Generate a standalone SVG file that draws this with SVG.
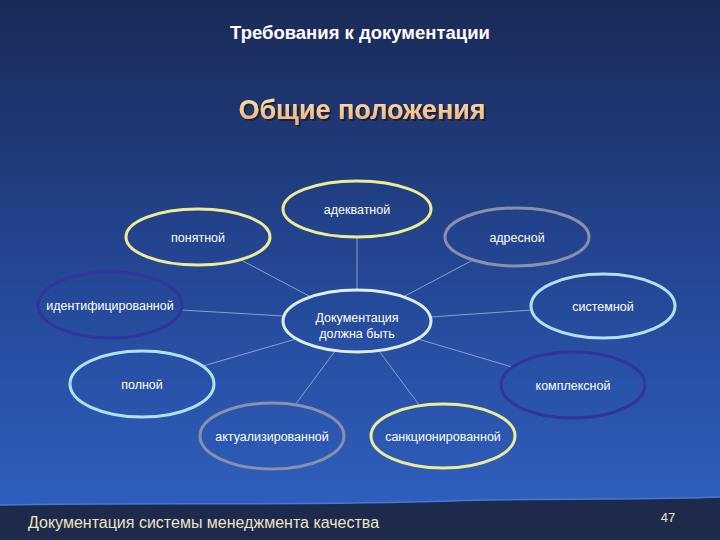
<svg xmlns="http://www.w3.org/2000/svg" width="720" height="540" viewBox="0 0 720 540">
<defs>
<linearGradient id="bg" x1="0" y1="0" x2="0" y2="1">
<stop offset="0" stop-color="#1a2a56"/>
<stop offset="0.45" stop-color="#23448f"/>
<stop offset="1" stop-color="#3062c4"/>
</linearGradient>
<linearGradient id="ttl" x1="0" y1="0" x2="0" y2="1">
<stop offset="0" stop-color="#fde2b8"/>
<stop offset="1" stop-color="#f0b070"/>
</linearGradient>
<filter id="sh" x="-10%" y="-30%" width="120%" height="160%">
<feDropShadow dx="2" dy="2" stdDeviation="0.6" flood-color="#141a36" flood-opacity="0.85"/>
</filter>
<style>
.lbl{font-family:"Liberation Sans",Arial,sans-serif;font-size:12.5px;fill:#ffffff;text-anchor:middle}
.el{fill:none;stroke-width:3}
.yel{stroke:#ecec96}
.gry{stroke:#8a90aa}
.pur{stroke:#33339a}
.cyn{stroke:#b4e0ff}
.wht{stroke:#dcefff}
.con line{stroke:#9fb4df;stroke-width:1;stroke-opacity:0.8}
</style>
</defs>
<rect x="0" y="0" width="720" height="540" fill="url(#bg)"/>
<path d="M0,505 C150,502 300,506 450,501 C560,498 650,500 720,497 L720,540 L0,540 Z" fill="#1e2a4c"/>
<path d="M0,505 C150,502 300,506 450,501 C560,498 650,500 720,497" fill="none" stroke="#4a78d0" stroke-width="1.5"/>
<text x="360" y="39" font-family="'Liberation Sans',Arial,sans-serif" font-size="18.5" font-weight="bold" fill="#ffffff" text-anchor="middle">Требования к документации</text>
<text x="362" y="119" font-family="'Liberation Sans',Arial,sans-serif" font-size="27" font-weight="bold" fill="url(#ttl)" text-anchor="middle" filter="url(#sh)">Общие положения</text>
<g id="connectors" class="con">
<line x1="357" y1="290" x2="357" y2="237"/>
<line x1="311" y1="297" x2="241" y2="260"/>
<line x1="403" y1="297" x2="473" y2="260"/>
<line x1="284" y1="316" x2="181" y2="310"/>
<line x1="430" y1="317" x2="532" y2="310"/>
<line x1="296" y1="339" x2="203" y2="366"/>
<line x1="418" y1="339" x2="512" y2="367"/>
<line x1="335" y1="351" x2="295" y2="405"/>
<line x1="379" y1="351" x2="420" y2="406"/>
</g>
<g id="n-adekvatnoy"><ellipse class="el yel" cx="357" cy="209" rx="74" ry="28"/><text class="lbl" x="357" y="214">адекватной</text></g>
<g id="n-ponyatnoy"><ellipse class="el yel" cx="198" cy="237" rx="72" ry="28"/><text class="lbl" x="198" y="242">понятной</text></g>
<g id="n-adresnoy"><ellipse class="el gry" cx="517" cy="237" rx="72" ry="29"/><text class="lbl" x="517" y="242">адресной</text></g>
<g id="n-identif"><ellipse class="el pur" cx="110" cy="305" rx="72" ry="33"/><text class="lbl" x="110" y="310">идентифицированной</text></g>
<g id="n-center"><ellipse class="el wht" cx="357" cy="321" rx="74" ry="31"/><text class="lbl" x="357" y="322">Документация</text><text class="lbl" x="357" y="338">должна быть</text></g>
<g id="n-sistemnoy"><ellipse class="el cyn" cx="603" cy="306" rx="72" ry="32"/><text class="lbl" x="603" y="311">системной</text></g>
<g id="n-polnoy"><ellipse class="el cyn" cx="142" cy="384" rx="72" ry="33"/><text class="lbl" x="142" y="389">полной</text></g>
<g id="n-kompleksnoy"><ellipse class="el pur" cx="573" cy="385" rx="72" ry="33"/><text class="lbl" x="573" y="390">комплексной</text></g>
<g id="n-aktual"><ellipse class="el gry" cx="272" cy="436" rx="72" ry="33"/><text class="lbl" x="272" y="441">актуализированной</text></g>
<g id="n-sankc"><ellipse class="el yel" cx="443" cy="436" rx="72" ry="32"/><text class="lbl" x="443" y="441">санкционированной</text></g>
<text x="28" y="528" font-family="'Liberation Sans',Arial,sans-serif" font-size="16" fill="#ece4c4">Документация системы менеджмента качества</text>
<text x="668" y="522" font-family="'Liberation Sans',Arial,sans-serif" font-size="13" fill="#ece4c4" text-anchor="middle">47</text>
</svg>
